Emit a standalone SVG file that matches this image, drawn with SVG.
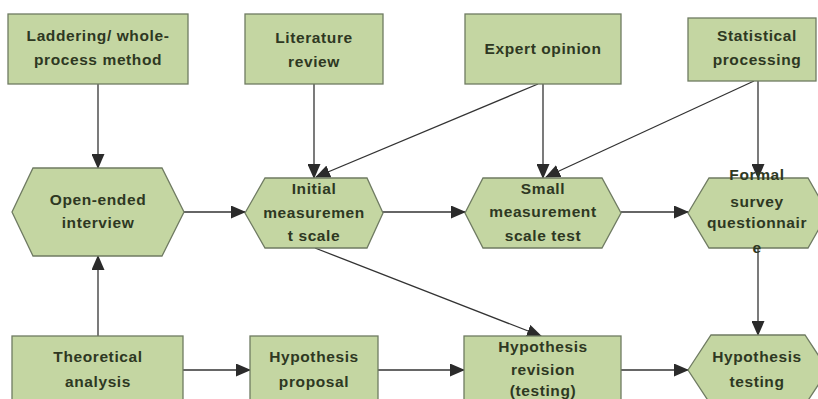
<svg xmlns="http://www.w3.org/2000/svg" width="818" height="399" viewBox="0 0 818 399">
  <style>
    .node { fill: #c4d6a2; stroke: #6f7b62; stroke-width: 1.3; }
    .lbl { font-family: "Liberation Sans", Arial, sans-serif; font-weight: bold; font-size: 15.5px; fill: #2e3822; text-anchor: middle; letter-spacing: 0.6px; }
    .edge { stroke: #333333; stroke-width: 1.3; fill: none; marker-end: url(#arrow); }
  </style>
  <defs>
    <marker id="arrow" markerUnits="userSpaceOnUse" markerWidth="15" markerHeight="13" refX="14" refY="6.5" orient="auto">
      <path d="M0,0 L15,6.5 L0,13 Z" fill="#2b2b2b"/>
    </marker>
  </defs>
  <rect width="818" height="399" fill="#ffffff"/>

  <g id="connectors">
    <line class="edge" x1="98" y1="84" x2="98" y2="168"/>
    <line class="edge" x1="314" y1="84" x2="314" y2="178"/>
    <line class="edge" x1="538" y1="84" x2="316" y2="177"/>
    <line class="edge" x1="543" y1="84" x2="543" y2="178"/>
    <line class="edge" x1="754" y1="81" x2="546" y2="177"/>
    <line class="edge" x1="758" y1="81" x2="758" y2="178"/>
    <line class="edge" x1="184" y1="212" x2="245" y2="212"/>
    <line class="edge" x1="383" y1="212" x2="465" y2="212"/>
    <line class="edge" x1="621" y1="212" x2="688" y2="212"/>
    <line class="edge" x1="315" y1="248" x2="541" y2="336"/>
    <line class="edge" x1="758" y1="248" x2="758" y2="335"/>
    <line class="edge" x1="98" y1="336" x2="98" y2="256"/>
    <line class="edge" x1="183" y1="370" x2="250" y2="370"/>
    <line class="edge" x1="378" y1="370" x2="464" y2="370"/>
    <line class="edge" x1="621" y1="370" x2="688" y2="370"/>
  </g>

  <g id="laddering">
    <rect class="node" x="8" y="14" width="180" height="70"/>
    <text class="lbl" x="98" y="41">Laddering/ whole-</text>
    <text class="lbl" x="98" y="65">process method</text>
  </g>
  <g id="literature">
    <rect class="node" x="245" y="14" width="138" height="70"/>
    <text class="lbl" x="314" y="43">Literature</text>
    <text class="lbl" x="314" y="67">review</text>
  </g>
  <g id="expert">
    <rect class="node" x="465" y="14" width="156" height="70"/>
    <text class="lbl" x="543" y="54">Expert opinion</text>
  </g>
  <g id="statistical">
    <rect class="node" x="688" y="18" width="128" height="63"/>
    <text class="lbl" x="757" y="41">Statistical</text>
    <text class="lbl" x="757" y="65">processing</text>
  </g>

  <g id="open-ended">
    <polygon class="node" points="12,212 33,168 162,168 184,212 162,256 33,256"/>
    <text class="lbl" x="98" y="205">Open-ended</text>
    <text class="lbl" x="98" y="228">interview</text>
  </g>
  <g id="initial">
    <polygon class="node" points="245,213 265,178 367,178 383,213 367,248 265,248"/>
    <text class="lbl" x="314" y="194">Initial</text>
    <text class="lbl" x="314" y="218">measuremen</text>
    <text class="lbl" x="314" y="241">t scale</text>
  </g>
  <g id="small">
    <polygon class="node" points="465,213 483,178 602,178 621,213 602,248 483,248"/>
    <text class="lbl" x="543" y="194">Small</text>
    <text class="lbl" x="543" y="217">measurement</text>
    <text class="lbl" x="543" y="241">scale test</text>
  </g>
  <g id="formal">
    <polygon class="node" points="688,213 709,178 808,178 828,213 808,248 709,248"/>
    <text class="lbl" x="757" y="180">Formal</text>
    <text class="lbl" x="757" y="207">survey</text>
    <text class="lbl" x="757" y="228">questionnair</text>
    <text class="lbl" x="757" y="253">e</text>
  </g>

  <g id="theoretical">
    <rect class="node" x="12" y="336" width="171" height="74"/>
    <text class="lbl" x="98" y="362">Theoretical</text>
    <text class="lbl" x="98" y="387">analysis</text>
  </g>
  <g id="proposal">
    <rect class="node" x="250" y="336" width="128" height="74"/>
    <text class="lbl" x="314" y="362">Hypothesis</text>
    <text class="lbl" x="314" y="387">proposal</text>
  </g>
  <g id="revision">
    <rect class="node" x="464" y="336" width="157" height="74"/>
    <text class="lbl" x="543" y="352">Hypothesis</text>
    <text class="lbl" x="543" y="375">revision</text>
    <text class="lbl" x="543" y="396">(testing)</text>
  </g>
  <g id="testing">
    <polygon class="node" points="688,370 711,335 805,335 828,370 805,405 711,405"/>
    <text class="lbl" x="757" y="362">Hypothesis</text>
    <text class="lbl" x="757" y="387">testing</text>
  </g>
</svg>
